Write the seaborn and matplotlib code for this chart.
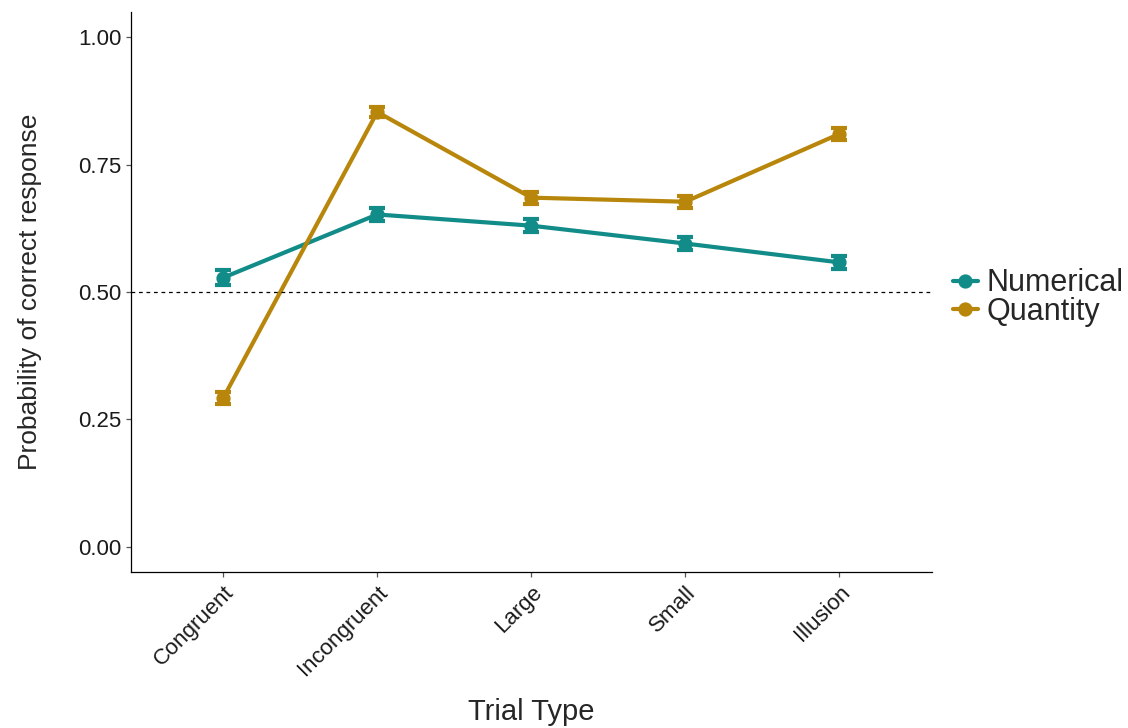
import pandas as pd
import numpy as np
import matplotlib.pyplot as plt
import seaborn as sns

# data
trial_types = ['Congruent', 'Incongruent', 'Large', 'Small', 'Illusion']
numerical = [0.528, 0.652, 0.630, 0.595, 0.558]
numerical_se = [0.015, 0.013, 0.013, 0.013, 0.013]
quantity = [0.292, 0.853, 0.685, 0.677, 0.810]
quantity_se = [0.012, 0.009, 0.012, 0.012, 0.011]
conditions = ['Numerical', 'Quantity']
colors = ['#128c89', '#b8860b']

df = pd.DataFrame({
    'trial': trial_types * 2,
    'prob': numerical + quantity,
    'se': numerical_se + quantity_se,
    'cond': [conditions[0]] * 5 + [conditions[1]] * 5,
})

sns.set_style('ticks')
plt.rcParams['font.family'] = ['Liberation Sans', 'DejaVu Sans']

fig = plt.figure(figsize=(11.28, 7.28), dpi=100)
ax = fig.add_axes([0.116, 0.214, 0.71, 0.77])

sns.pointplot(data=df, x='trial', y='prob', hue='cond', order=trial_types,
              hue_order=conditions, palette=colors, errorbar=None,
              markers='o', markersize=8, linewidth=3, ax=ax)

# error bars
for cond, col in zip(conditions, colors):
    sub = df[df['cond'] == cond].set_index('trial').loc[trial_types]
    ax.errorbar(np.arange(len(trial_types)), sub['prob'], yerr=sub['se'],
                fmt='none', ecolor=col, elinewidth=3, capsize=5.5, capthick=3, zorder=5)

ax.axhline(0.5, color='black', linestyle='--', linewidth=0.9, dashes=(3, 3))

ax.set_xlim(-0.6, 4.6)
ax.set_ylim(-0.05, 1.05)
ax.set_yticks([0, 0.25, 0.5, 0.75, 1.0])
ax.set_yticklabels(['0.00', '0.25', '0.50', '0.75', '1.00'])
ax.tick_params(axis='both', labelsize=16, colors='#555555', length=3.5, width=0.9)
ax.tick_params(axis='both', labelcolor='#1a1a1a')
plt.setp(ax.get_xticklabels(), rotation=45, ha='right', rotation_mode='anchor')

sns.despine(ax=ax)
for s in ['left', 'bottom']:
    ax.spines[s].set_linewidth(0.9)
    ax.spines[s].set_color('black')

ax.set_xlabel('Trial Type', fontsize=21)
ax.xaxis.set_label_coords(0.5, -0.225)
ax.set_ylabel('Probability of correct response', fontsize=19, labelpad=26)

leg = ax.legend(title=None, frameon=False, loc='center left',
                bbox_to_anchor=(1.0, 0.49), fontsize=22, handlelength=0.8,
                handletextpad=0.3, labelspacing=-0.05, borderaxespad=0.3)

fig.savefig('out.png', dpi=100)
